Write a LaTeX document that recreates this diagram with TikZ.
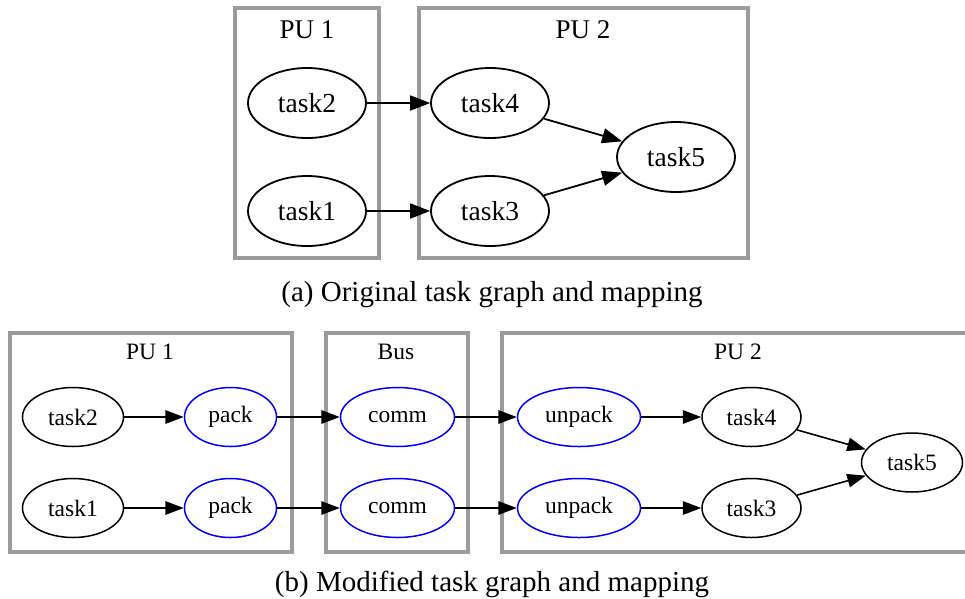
\documentclass[tikz,border=0pt]{standalone}
\usepackage{fontspec}
\setmainfont{Liberation Serif}
\usetikzlibrary{arrows.meta,shapes.geometric}
\definecolor{clustergray}{RGB}{155,155,155}
\begin{document}
\begin{tikzpicture}[x=1pt,y=-1pt,
  cluster/.style={draw=clustergray,line width=3.6pt},
  toptask/.style={ellipse,draw,line width=1.8pt,inner sep=0pt,
    minimum width=118pt,minimum height=70pt,font=\fontsize{27.5}{27.5}\selectfont},
  bottask/.style={ellipse,draw,line width=1.5pt,inner sep=0pt,
    minimum height=59pt,font=\fontsize{23.5}{23.5}\selectfont},
  conv/.style={bottask,draw=blue},
  toptitle/.style={anchor=base,font=\fontsize{27}{27}\selectfont},
  bottitle/.style={anchor=base,font=\fontsize{23.5}{23.5}\selectfont},
  caption/.style={anchor=base,font=\fontsize{29}{29}\selectfont},
  topedge/.style={line width=1.8pt,-{Triangle[length=20pt,width=15pt]}},
  botedge/.style={line width=1.6pt,-{Triangle[length=18.5pt,width=13.5pt]}}
]
\clip (0,0) rectangle (965,598);

% ---- (a) original task graph ----
\draw[cluster] (235,8) rectangle (379,258);
\draw[cluster] (419,8) rectangle (748,258);
\node[toptitle] (ta) at (307,38) {PU 1};
\node[toptitle] (tb) at (583,38) {PU 2};

\node[toptask] (a2) at (307,103) {task2};
\node[toptask] (a1) at (307,211) {task1};
\node[toptask] (a4) at (490,103) {task4};
\node[toptask] (a3) at (490,211) {task3};
\node[toptask] (a5) at (676,157) {task5};

\draw[topedge] (a2) -- (a4);
\draw[topedge] (a1) -- (a3);
\draw[topedge] (a4) -- (a5);
\draw[topedge] (a3) -- (a5);

\node[caption] (capa) at (492,301) {(a) Original task graph and mapping};

% ---- (b) modified task graph ----
\draw[cluster] (10,333) rectangle (292,552);
\draw[cluster] (326,333) rectangle (468,552);
\draw[cluster] (502,333) rectangle (972,552);
\node[bottitle] (tc) at (150,359) {PU 1};
\node[bottitle] (td) at (396,359) {Bus};
\node[bottitle] (te) at (738,359) {PU 2};

\node[bottask,minimum width=101pt] (b2) at (73,417) {task2};
\node[bottask,minimum width=101pt] (b1) at (73,508) {task1};
\node[conv,minimum width=92pt] (p2) at (230.5,417) {pack};
\node[conv,minimum width=92pt] (p1) at (230.5,508) {pack};
\node[conv,minimum width=114pt] (c2) at (397.5,417) {comm};
\node[conv,minimum width=114pt] (c1) at (397.5,508) {comm};
\node[conv,minimum width=123pt] (u2) at (579,417) {unpack};
\node[conv,minimum width=123pt] (u1) at (579,508) {unpack};
\node[bottask,minimum width=99pt] (b4) at (751.5,417) {task4};
\node[bottask,minimum width=99pt] (b3) at (751.5,508) {task3};
\node[bottask,minimum width=101pt] (b5) at (912,462.5) {task5};

\draw[botedge] (b2) -- (p2);
\draw[botedge] (p2) -- (c2);
\draw[botedge] (c2) -- (u2);
\draw[botedge] (u2) -- (b4);
\draw[botedge] (b1) -- (p1);
\draw[botedge] (p1) -- (c1);
\draw[botedge] (c1) -- (u1);
\draw[botedge] (u1) -- (b3);
\draw[botedge] (b4) -- (b5);
\draw[botedge] (b3) -- (b5);

\node[caption] (capb) at (492,591) {(b) Modified task graph and mapping};
\end{tikzpicture}
\end{document}
